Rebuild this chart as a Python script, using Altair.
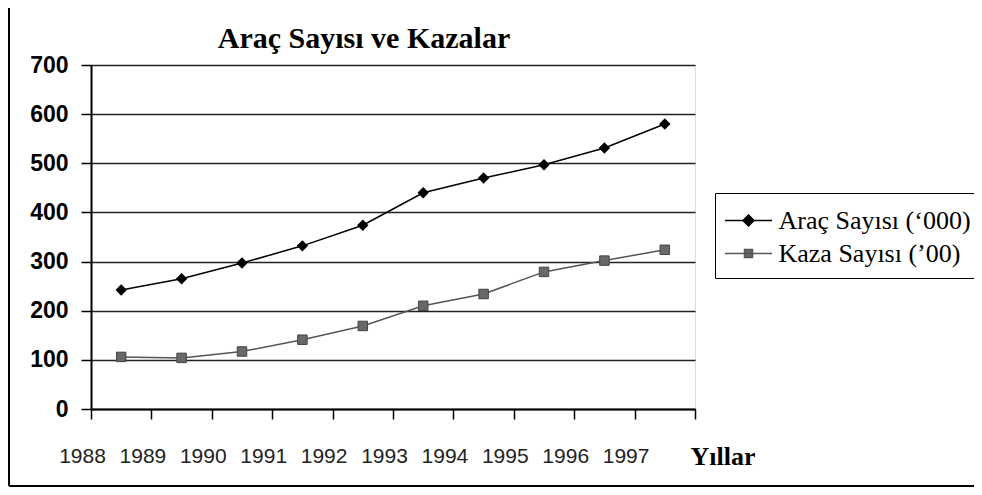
import altair as alt
import pandas as pd

years = [1988, 1989, 1990, 1991, 1992, 1993, 1994, 1995, 1996, 1997]
arac = [242, 265, 297, 332, 374, 440, 470, 497, 531, 580]
kaza = [106, 104, 117, 141, 169, 210, 234, 279, 302, 324]
series_names = ["Araç Sayısı (‘000)", "Kaza Sayısı (’00)"]
y_ticks = [0, 100, 200, 300, 400, 500, 600, 700]
x_ticks = [1988, 1989, 1990, 1991, 1992, 1993, 1994, 1995, 1996, 1997, 1998]

rows = []
for s, vals in zip(series_names, [arac, kaza]):
    for yr, v in zip(years, vals):
        rows.append({"year": yr, "value": v, "series": s})
df = pd.DataFrame(rows)

W, H = 604, 344
SERIF = "Liberation Serif"

x_enc = alt.X(
    "xpos:Q",
    scale=alt.Scale(domain=[1988, 1998], nice=False, zero=False),
    axis=alt.Axis(
        values=x_ticks,
        labelExpr="datum.value == 1998 ? '' : '' + datum.value",
        labelOffset=-9,
        labelFont="Liberation Sans",
        labelFontSize=21,
        labelColor="#222",
        labelPadding=37,
        labelBaseline="middle",
        labelFlush=False,
        labelOverlap=False,
        grid=False,
        tickSize=10,
        tickColor="black",
        tickWidth=1.5,
        domainColor="black",
        domainWidth=2,
        title="Yıllar",
        titleFont=SERIF,
        titleFontSize=26,
        titleFontWeight="bold",
        titleColor="black",
        titleX=599,
        titleY=47,
        titleAlign="left",
        titleBaseline="middle",
    ),
)
y_enc = alt.Y(
    "value:Q",
    scale=alt.Scale(domain=[0, 700], nice=False),
    axis=alt.Axis(
        values=y_ticks,
        title=None,
        grid=True,
        gridColor="#222",
        gridWidth=1.5,
        tickSize=10,
        tickColor="black",
        tickWidth=1.5,
        domainColor="black",
        domainWidth=2,
        labelFont="Liberation Sans",
        labelFontSize=23,
        labelFontWeight="bold",
        labelColor="black",
        labelPadding=13,
    ),
)

base = alt.Chart(df).transform_calculate(xpos="datum.year + 0.5")

line_a = base.transform_filter(alt.datum.series == series_names[0]).mark_line(
    color="black", strokeWidth=1.5
).encode(x=x_enc, y=y_enc)
pts_a = base.transform_filter(alt.datum.series == series_names[0]).mark_point(
    shape="diamond", filled=True, color="black", size=130, opacity=1
).encode(x=x_enc, y=y_enc)
line_k = base.transform_filter(alt.datum.series == series_names[1]).mark_line(
    color="#555555", strokeWidth=1.5
).encode(x=x_enc, y=y_enc)
pts_k = base.transform_filter(alt.datum.series == series_names[1]).mark_point(
    shape="square", filled=False, fill="#686868", stroke="#444444", strokeWidth=1, size=90, opacity=1
).encode(x=x_enc, y=y_enc)

legend_paths = [
    "M-1.57,0L1.57,0M0,-0.367L0.367,0L0,0.367L-0.367,0Z",
    "M-1.57,0L1.57,0M-0.267,-0.267L0.267,-0.267L0.267,0.267L-0.267,0.267Z",
]
leg = alt.Legend(
    title=None,
    orient="none",
    legendX=624,
    legendY=128,
    strokeColor="black",
    fillColor="white",
    padding=11.5,
    symbolSize=900,
    symbolOffset=6,
    symbolStrokeWidth=1.5,
    labelFont=SERIF,
    labelFontSize=26,
    labelColor="black",
    labelOffset=14,
    labelLimit=400,
    rowPadding=4,
)
legend_layer = base.transform_filter("false").mark_point(filled=False, opacity=1).encode(
    x=x_enc,
    y=y_enc,
    shape=alt.Shape("series:N", scale=alt.Scale(domain=series_names, range=legend_paths), legend=leg),
    color=alt.Color("series:N", scale=alt.Scale(domain=series_names, range=["black", "#555555"]), legend=leg),
    fill=alt.Fill("series:N", scale=alt.Scale(domain=series_names, range=["black", "#686868"]), legend=leg),
)

frame_df = pd.DataFrame({"a": [0]})
frame_left = alt.Chart(frame_df).mark_rule(color="black", strokeWidth=2).encode(
    x=alt.value(-82), y=alt.value(-60), y2=alt.value(421)
)
frame_bottom = alt.Chart(frame_df).mark_rule(color="black", strokeWidth=2).encode(
    x=alt.value(-82), x2=alt.value(895), y=alt.value(421)
)

chart = alt.layer(
    line_a, line_k, pts_k, pts_a, legend_layer, frame_left, frame_bottom
).properties(
    width=W,
    height=H,
    title=alt.Title(
        "Araç Sayısı ve Kazalar",
        font=SERIF,
        fontSize=30,
        fontWeight="bold",
        color="black",
        anchor="middle",
        frame="group",
        baseline="bottom",
        dx=-29,
        dy=80,
        offset=0,
    ),
    autosize=alt.AutoSizeParams(type="none"),
    padding={"left": 83, "top": 57, "right": 279, "bottom": 78},
).configure_view(
    fill="#c0c0c0", stroke="#808080", strokeWidth=1.5
).configure(background="white")

chart.save("out.html", embed_options={"renderer": "svg", "actions": False})
